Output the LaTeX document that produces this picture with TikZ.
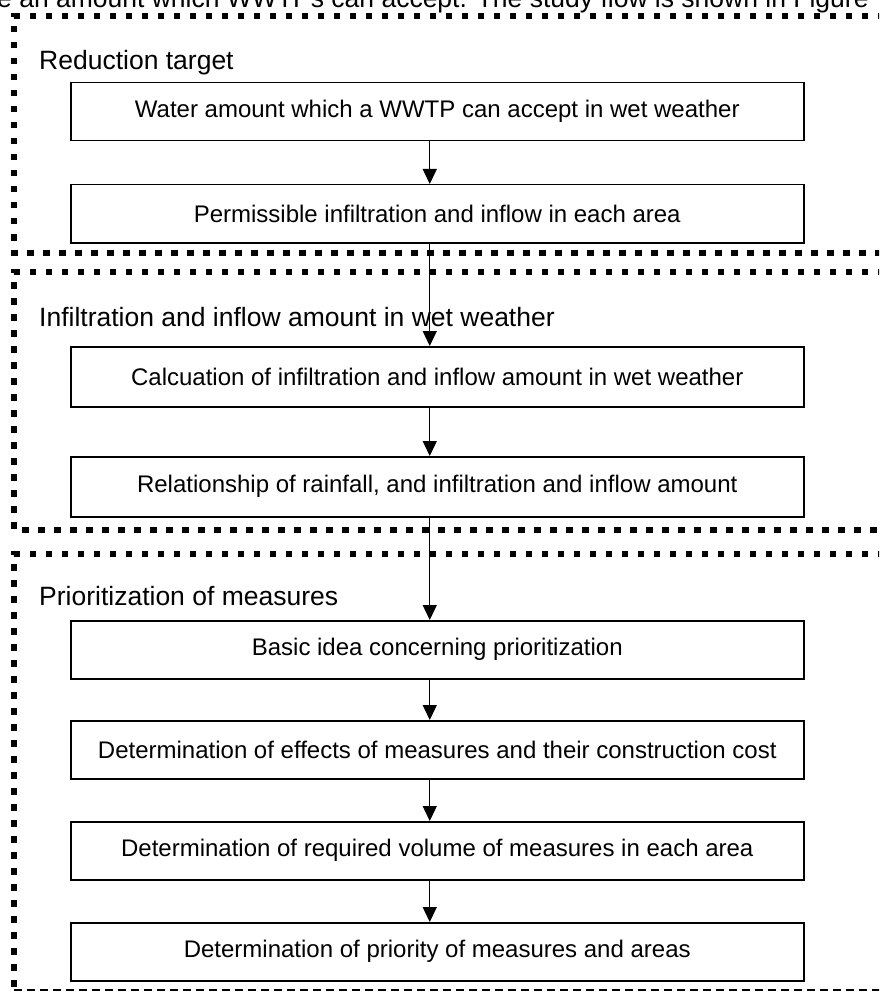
\documentclass[tikz,border=0pt]{standalone}
\usepackage{fontspec}
\setmainfont{Liberation Sans}
\usetikzlibrary{arrows.meta}
\newcommand\boxfont{\fontsize{24}{28}\selectfont}
\newcommand\headfont{\fontsize{26.5}{30}\selectfont}
\begin{document}
\begin{tikzpicture}[x=1pt,y=-1pt,
  box/.style={draw, line width=1.5pt, minimum width=733pt, minimum height=58pt,
    inner sep=0pt, anchor=north west, font=\boxfont},
  head/.style={anchor=base west, inner sep=0pt, font=\headfont},
  frameline/.style={line width=6.5pt, dash pattern=on 6.5pt off 9.5pt},
  bottomline/.style={line width=2pt, dash pattern=on 8pt off 5pt},
  arr/.style={line width=1.3pt, -{Triangle[length=15pt,width=14pt]}}]
\useasboundingbox (0,0) rectangle (879,992);
\clip (0,0) rectangle (879,992);

% cut-off text line of the page above
\node[head] (toptext) at (-3,8) {e an amount which WWTPs can accept. The study flow is shown in Figure};

% frames
\draw[frameline] (900,16) -- (14,16) -- (14,253) -- (900,253);
\draw[frameline] (900,272) -- (14,272) -- (14,530) -- (900,530);
\draw[frameline] (900,554) -- (14,554) -- (14,990);
\draw[bottomline] (14,990) -- (900,990);

% headings
\node[head] (h1) at (39,70) {Reduction target};
\node[head] (h2) at (39,326) {Infiltration and inflow amount in wet weather};
\node[head] (h3) at (39,605) {Prioritization of measures};

% boxes
\node[box] (b1) at (70,82) {Water amount which a WWTP can accept in wet weather};
\node[box] (b2) at (70,184) {Permissible infiltration and inflow in each area};
\node[box, minimum height=60pt] (b3) at (70,346) {Calcuation of infiltration and inflow amount in wet weather};
\node[box, minimum height=60pt] (b4) at (70,456) {Relationship of rainfall, and infiltration and inflow amount};
\node[box] (b5) at (70,620) {Basic idea concerning prioritization};
\node[box] (b6) at (70,720) {Determination of effects of measures and their construction cost};
\node[box] (b7) at (70,821) {Determination of required volume of measures in each area};
\node[box] (b8) at (70,922) {Determination of priority of measures and areas};

% connectors
\foreach \a/\b in {b1/b2, b2/b3, b3/b4, b4/b5, b5/b6, b6/b7, b7/b8}
  \draw[arr] ([xshift=-7.5pt]\a.south) -- ([xshift=-7.5pt]\b.north);
\end{tikzpicture}
\end{document}
